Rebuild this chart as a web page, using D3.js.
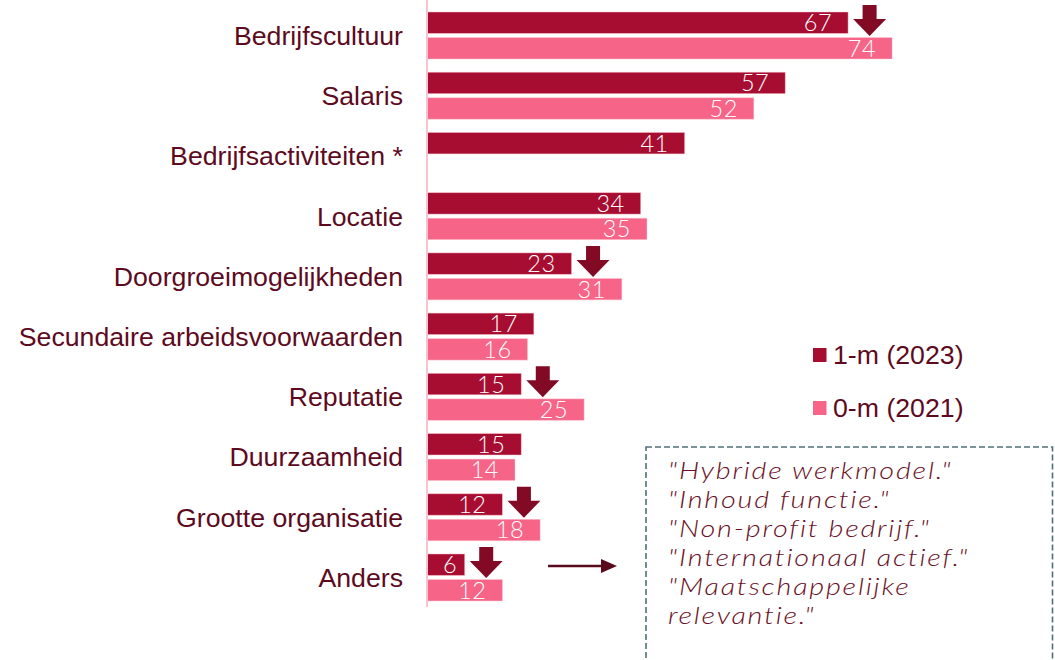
<!DOCTYPE html>
<html>
<head>
<meta charset="utf-8">
<script src="https://cdn.jsdelivr.net/npm/d3@7"></script>
<style>
	body { margin: 0; background: #fff; }
	svg { display: block; }
</style>
</head>
<body>
<div id="chart"></div>
<script>
'use strict';

// categories and values
const categories = [
	'Bedrijfscultuur',
	'Salaris',
	'Bedrijfsactiviteiten *',
	'Locatie',
	'Doorgroeimogelijkheden',
	'Secundaire arbeidsvoorwaarden',
	'Reputatie',
	'Duurzaamheid',
	'Grootte organisatie',
	'Anders',
];
const values2023 = [67, 57, 41, 34, 23, 17, 15, 15, 12, 6];
const values2021 = [74, 52, null, 35, 31, 16, 25, 14, 18, 12];
const seriesNames = ['1-m (2023)', '0-m (2021)'];
// categories that got a "went down" arrow
const dropCategories = ['Bedrijfscultuur', 'Doorgroeimogelijkheden', 'Reputatie', 'Grootte organisatie', 'Anders'];
const quoteLines = [
	'"Hybride werkmodel."',
	'"Inhoud functie."',
	'"Non-profit bedrijf."',
	'"Internationaal actief."',
	'"Maatschappelijke',
	'relevantie."',
];

const width = 1055;
const height = 660;
const darkColor = '#a70c31';
const pinkColor = '#f66488';
const arrowColor = '#820a25';
const textColor = '#5e0a1e';
const labelFont = '"Liberation Sans", Arial, sans-serif';

const svg = d3
	.select('#chart')
	.append('svg')
	.attr('width', width)
	.attr('height', height);

const x = d3.scaleLinear().domain([0, 100]).range([427, 427 + 628.5]);
const y = d3.scaleBand().domain(categories).range([5.4, 607.6]).padding(0);
const ySub = d3
	.scaleBand()
	.domain(['2023', '2021'])
	.range([6.6, 53.6])
	.paddingInner(0.16);

const rows = categories.map((c, i) => ({ cat: c, v23: values2023[i], v21: values2021[i] }));

// category labels
svg
	.append('g')
	.selectAll('text')
	.data(categories)
	.enter()
	.append('text')
	.attr('x', 403)
	.attr('y', (d) => y(d) + y.bandwidth() / 2)
	.attr('dy', '0.35em')
	.attr('text-anchor', 'end')
	.style('font-family', labelFont)
	.style('font-size', '26.7px')
	.style('fill', textColor)
	.text((d) => d);

// bars
const bars = [];
rows.forEach((r) => {
	bars.push({ cat: r.cat, key: '2023', v: r.v23, color: darkColor });
	if (r.v21 !== null) bars.push({ cat: r.cat, key: '2021', v: r.v21, color: pinkColor });
});

const barG = svg.append('g').selectAll('g').data(bars).enter().append('g');

barG
	.append('rect')
	.attr('x', x(0))
	.attr('y', (d) => y(d.cat) + ySub(d.key))
	.attr('width', (d) => x(d.v) - x(0))
	.attr('height', ySub.bandwidth())
	.style('fill', (d) => d.color)
	.style('stroke', 'rgba(255, 200, 210, 0.6)')
	.style('stroke-width', 0.8);

barG
	.append('text')
	.attr('y', (d) => y(d.cat) + ySub(d.key) + ySub.bandwidth() / 2)
	.attr('dy', '0.36em')
	.attr('text-anchor', 'end')
	.style('font-family', 'Lato, "Open Sans", sans-serif')
	.style('font-weight', 300)
	.style('font-size', '23.5px')
	.style('letter-spacing', '0.5px')
	.style('fill', '#fff')
	.text((d) => d.v)
	.attr('x', function(d) {
		const barW = x(d.v) - x(0);
		const textW = this.getComputedTextLength();
		const inset = Math.min(16, barW - textW - 16);
		return x(d.v) - inset;
	});

// axis line
svg
	.append('line')
	.attr('x1', x(0))
	.attr('x2', x(0))
	.attr('y1', 0)
	.attr('y2', 607)
	.style('stroke', '#f9c3cf')
	.style('stroke-width', 2);

// down arrows next to the 2023 bar
const arrowPath = 'M-7,0 L7,0 L7,14 L16.5,14 L0,31 L-16.5,14 L-7,14 Z';
svg
	.append('g')
	.selectAll('path')
	.data(rows.filter((r) => dropCategories.includes(r.cat)))
	.enter()
	.append('path')
	.attr('d', arrowPath)
	.attr('transform', (d) => `translate(${x(d.v23) + 21.5},${y(d.cat) + ySub('2023') - 7})`)
	.style('fill', arrowColor);

// legend
const legend = svg
	.append('g')
	.selectAll('g')
	.data(seriesNames)
	.enter()
	.append('g')
	.attr('transform', (d, i) => `translate(813,${355 + i * 53})`);

legend
	.append('rect')
	.attr('x', 0)
	.attr('y', -7)
	.attr('width', 13.5)
	.attr('height', 14)
	.style('fill', (d, i) => (i === 0 ? darkColor : pinkColor));

legend
	.append('text')
	.attr('x', 20)
	.attr('dy', '0.35em')
	.style('font-family', labelFont)
	.style('font-size', '26.7px')
	.style('fill', textColor)
	.text((d) => d);

// pointer arrow to the quotes box
svg
	.append('line')
	.attr('x1', 548)
	.attr('x2', 604)
	.attr('y1', 566)
	.attr('y2', 566)
	.style('stroke', '#5a0a1d')
	.style('stroke-width', 2.5);
svg
	.append('path')
	.attr('d', 'M617,566 L601,559 L601,573 Z')
	.style('fill', '#5a0a1d');

// dashed quotes box
svg
	.append('rect')
	.attr('x', 646)
	.attr('y', 447)
	.attr('width', 406.5)
	.attr('height', 230)
	.style('fill', 'none')
	.style('stroke', '#4f7278')
	.style('stroke-width', 1.6)
	.style('stroke-dasharray', '6,3');

// quotes, stretched a bit to get the wide geometric look
svg
	.append('g')
	.attr('transform', 'translate(668,0) scale(1.2,1)')
	.selectAll('text')
	.data(quoteLines)
	.enter()
	.append('text')
	.attr('x', 0)
	.attr('y', (d, i) => 479 + i * 29)
	.style('font-family', 'Lato, "Open Sans", sans-serif')
	.style('font-style', 'italic')
	.style('font-weight', 300)
	.style('font-size', '24px')
	.style('letter-spacing', '1.5px')
	.style('fill', '#6a0f25')
	.text((d) => d);
</script>
</body>
</html>
